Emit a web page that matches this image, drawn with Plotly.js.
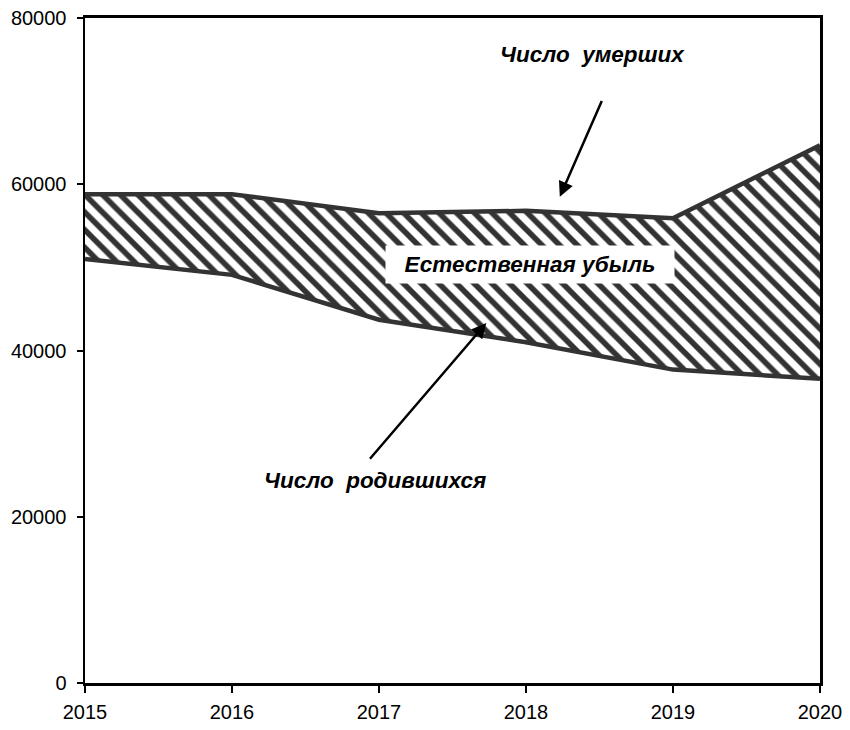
<!DOCTYPE html>
<html>
<head>
<meta charset="utf-8">
<script src="https://cdn.plot.ly/plotly-3.0.1.min.js"></script>
<style>html,body{margin:0;padding:0;background:#fff;}</style>
</head>
<body>
<div id="chart" style="width:850px;height:730px;"></div>
<script>
const years = [2015, 2016, 2017, 2018, 2019, 2020];
const births = [51000, 49100, 43700, 41000, 37700, 36600];
const deaths = [58800, 58800, 56500, 56800, 55900, 64700];
const yTicks = [0, 20000, 40000, 60000, 80000];

const traces = [
  {x: years, y: births, type: 'scatter', mode: 'lines',
   line: {color: '#333333', width: 4.5}, hoverinfo: 'skip', showlegend: false},
  {x: years, y: deaths, type: 'scatter', mode: 'lines', fill: 'tonexty',
   fillcolor: 'rgba(0,0,0,0)',
   fillpattern: {shape: '\\', fgcolor: '#333333', bgcolor: '#ffffff', size: 12.5, solidity: 0.45},
   line: {color: '#333333', width: 4.5}, hoverinfo: 'skip', showlegend: false}
];

const FAM = 'Liberation Sans, Arial, sans-serif';
const layout = {
  width: 850, height: 730,
  margin: {l: 85, r: 30, t: 18, b: 47},
  paper_bgcolor: '#fff', plot_bgcolor: '#fff',
  font: {family: FAM, size: 20, color: '#000'},
  xaxis: {range: [2015, 2020], tickvals: years, ticktext: years.map(String),
    showgrid: false, zeroline: false, showline: true, linecolor: '#000', linewidth: 3,
    mirror: true, ticks: 'outside', ticklen: 7, tickwidth: 2, tickcolor: '#000',
    ticklabelstandoff: 2, tickfont: {family: FAM, size: 20, color: '#000'}},
  yaxis: {range: [0, 80000], tickvals: yTicks, ticktext: yTicks.map(String),
    showgrid: false, zeroline: false, showline: true, linecolor: '#000', linewidth: 2.5,
    mirror: true, ticks: 'outside', ticklen: 6, tickwidth: 2, tickcolor: '#000',
    ticklabelstandoff: 6, tickfont: {family: FAM, size: 20, color: '#000'}},
  annotations: [
    {x: 2018.03, y: 50300, xref: 'x', yref: 'y',
     text: '<b><i>&nbsp;&nbsp;Естественная убыль&nbsp;&nbsp;</i></b>',
     showarrow: false, bgcolor: '#ffffff', borderpad: 6,
     font: {family: FAM, size: 22.5, color: '#000'}},
    {x: 2018.45, y: 75600, xref: 'x', yref: 'y', text: '<b><i>Число  умерших</i></b>',
     showarrow: false, font: {family: FAM, size: 22.5, color: '#000'}},
    {x: 2016.97, y: 24400, xref: 'x', yref: 'y', text: '<b><i>Число  родившихся</i></b>',
     showarrow: false, font: {family: FAM, size: 22.5, color: '#000'}},
    {x: 2018.23, y: 58500, xref: 'x', yref: 'y', ax: 2018.52, ay: 70200, axref: 'x', ayref: 'y',
     text: '', showarrow: true, arrowhead: 2, arrowsize: 1.2, arrowwidth: 2.5, arrowcolor: '#000'},
    {x: 2017.73, y: 43300, xref: 'x', yref: 'y', ax: 2016.93, ay: 26800, axref: 'x', ayref: 'y',
     text: '', showarrow: true, arrowhead: 2, arrowsize: 1.2, arrowwidth: 2.5, arrowcolor: '#000'}
  ]
};
Plotly.newPlot('chart', traces, layout, {displayModeBar: false, staticPlot: true});
</script>
</body>
</html>
